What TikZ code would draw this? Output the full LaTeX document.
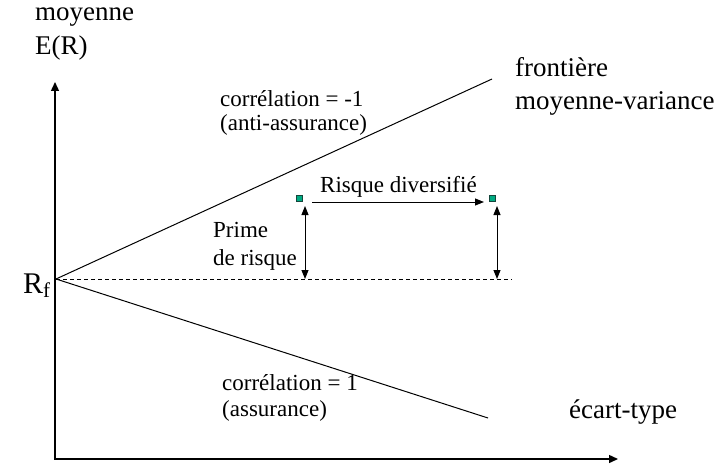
\documentclass[tikz,border=0pt]{standalone}
\usepackage{fontspec}
\setmainfont{Liberation Serif}
\usetikzlibrary{arrows.meta}
\definecolor{markerfill}{RGB}{0,170,130}
\definecolor{markerline}{RGB}{20,70,60}
\begin{document}
\begin{tikzpicture}[x=1pt,y=-1pt,
  axes/.style={line width=1.4pt,{Triangle[length=9pt,width=8pt]}-{Triangle[length=9pt,width=8pt]}},
  frontier/.style={line width=1pt},
  riskfree/.style={line width=0.8pt,dash pattern=on 4pt off 3pt},
  biglabel/.style={anchor=base west,inner sep=0pt,font=\fontsize{27}{33}\selectfont},
  smalllabel/.style={anchor=base west,inner sep=0pt,font=\fontsize{23}{27}\selectfont},
  marker/.style={draw=markerline,fill=markerfill,minimum size=6pt,inner sep=0pt,line width=0.5pt},
  oneway/.style={line width=1pt,-{Triangle[length=9pt,width=7pt]}},
  twoway/.style={line width=1pt,{Triangle[length=9pt,width=7pt]}-{Triangle[length=9pt,width=7pt]}}]
\useasboundingbox (0,0) rectangle (727,465);

% axes
\coordinate (O) at (55,459);
\coordinate (ytip) at (55,82);
\coordinate (xtip) at (618,459);
\draw[axes] (ytip) -- (O) -- (xtip);

% risk-free rate and the two extreme portfolio lines
\coordinate (Rf) at (56,279);
\coordinate (upper) at (492,79);
\coordinate (lower) at (488,418);
\coordinate (dashend) at (512,279);
\draw[frontier] (Rf) -- (upper);
\draw[frontier] (Rf) -- (lower);
\draw[riskfree] (Rf) -- (dashend);

% two portfolios and the risk premium markers
\node[marker] (m1) at (299,198) {};
\node[marker] (m2) at (492,198) {};
\coordinate (d1) at (312,202);
\coordinate (d2) at (484,202);
\draw[oneway] (d1) -- (d2);
\coordinate (p1top) at (305,206);
\coordinate (p1bot) at (305,279);
\coordinate (p2top) at (497,206);
\coordinate (p2bot) at (497,279);
\draw[twoway] (p1top) -- (p1bot);
\draw[twoway] (p2top) -- (p2bot);

% labels
\node[biglabel] (ylab1) at (35,21) {moyenne};
\node[biglabel] (ylab2) at (35,55) {E(R)};
\node[biglabel] (front1) at (515,77) {frontière};
\node[biglabel] (front2) at (515,110) {moyenne-variance};
\node[smalllabel] (neg1) at (220,107) {corrélation = -1};
\node[smalllabel] (neg2) at (220,131) {(anti-assurance)};
\node[smalllabel] (div) at (320,192) {Risque diversifié};
\node[smalllabel] (prime1) at (213,237) {Prime};
\node[smalllabel] (prime2) at (213,265) {de risque};
\node[smalllabel] (pos1) at (222,390) {corrélation = 1};
\node[smalllabel] (pos2) at (222,416) {(assurance)};
\node[biglabel] (xlab) at (569,418) {écart-type};
\node[biglabel,font=\fontsize{30}{30}\selectfont] (rf) at (23,293) {R\raisebox{-0.3ex}{\fontsize{21}{21}\selectfont f}};
\end{tikzpicture}
\end{document}
